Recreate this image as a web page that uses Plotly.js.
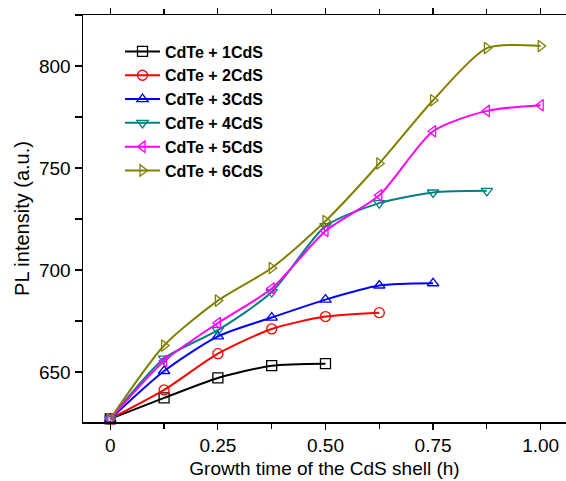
<!DOCTYPE html>
<html>
<head>
<meta charset="utf-8">
<script src="https://cdn.plot.ly/plotly-3.0.1.min.js"></script>
<style>html,body{margin:0;padding:0;background:#fff;}#chart{width:566px;height:481px;}</style>
</head>
<body>
<div id="chart"></div>
<script>
// Growth time (h)
const time = [0, 0.125, 0.25, 0.375, 0.5, 0.625, 0.75, 0.875, 1.0];

// PL intensity (a.u.) per sample
const cds1 = [627, 637.3, 647.1, 653.1, 654.1];
const cds2 = [627, 641.2, 659.0, 671.1, 677.2, 679.1];
const cds3 = [627, 650.5, 667.5, 676.7, 685.5, 692.4, 693.5];
const cds4 = [627, 656.6, 670.5, 689.2, 721.5, 732.8, 738.0, 738.8];
const cds5 = [627, 655.4, 674.0, 690.9, 719.1, 736.6, 768.0, 778.0, 780.8];
const cds6 = [627, 663.0, 685.0, 701.0, 724.0, 752.2, 783.2, 808.8, 809.8];

const seriesNames = ["CdTe + 1CdS", "CdTe + 2CdS", "CdTe + 3CdS", "CdTe + 4CdS", "CdTe + 5CdS", "CdTe + 6CdS"];
const seriesValues = [cds1, cds2, cds3, cds4, cds5, cds6];
const seriesColors = ["#000000", "#ff0000", "#0000ff", "#008080", "#ff00ff", "#808000"];
const seriesSymbols = ["square-open", "circle-open", "triangle-up-open", "triangle-down-open", "triangle-left-open", "triangle-right-open"];

const xTickVals = [0, 0.25, 0.5, 0.75, 1.0];
const xTickText = ["0", "0.25", "0.50", "0.75", "1.00"];
const yTickVals = [650, 700, 750, 800];
const yTickText = ["650", "700", "750", "800"];

const FONT = "Arial, 'Liberation Sans', sans-serif";

const traces = seriesValues.map((vals, i) => ({
  x: time.slice(0, vals.length),
  y: vals,
  name: seriesNames[i],
  type: "scatter",
  mode: "lines+markers",
  line: {color: seriesColors[i], width: 2, shape: "spline", smoothing: 0.7},
  marker: {symbol: seriesSymbols[i], size: 10, color: seriesColors[i], line: {color: seriesColors[i], width: 1.3}},
  cliponaxis: false
}));

const layout = {
  width: 566,
  height: 481,
  margin: {l: 83, r: 0, t: 15, b: 59},
  paper_bgcolor: "#ffffff",
  plot_bgcolor: "#ffffff",
  font: {family: FONT, color: "#000000", size: 19},
  showlegend: true,
  legend: {
    x: 0.0766, y: 0.952, xanchor: "left", yanchor: "top",
    bgcolor: "rgba(0,0,0,0)",
    font: {family: FONT, size: 16, color: "#000000", weight: "bold"},
    itemwidth: 35,
    tracegroupgap: 0
  },
  xaxis: {
    range: [-0.0634, 1.0588],
    tickvals: xTickVals,
    ticktext: xTickText,
    ticks: "outside",
    ticklen: 6,
    tickwidth: 1.2,
    tickcolor: "#000",
    minor: {dtick: 0.125, tick0: 0, ticks: "outside", ticklen: 5, tickwidth: 1.2, tickcolor: "#000"},
    showline: true,
    linecolor: "#000",
    linewidth: 1.5,
    mirror: "allticks",
    showgrid: false,
    zeroline: false,
    tickfont: {family: FONT, size: 19},
    title: {text: "Growth time of the CdS shell (h)", font: {family: FONT, size: 19}, standoff: 6}
  },
  yaxis: {
    range: [625.5, 825],
    tickvals: yTickVals,
    ticktext: yTickText,
    ticks: "outside",
    ticklen: 7,
    tickwidth: 1.2,
    tickcolor: "#000",
    minor: {dtick: 25, tick0: 0, ticks: "outside", ticklen: 7, tickwidth: 1.2, tickcolor: "#000"},
    showline: true,
    linecolor: "#000",
    linewidth: 1.5,
    mirror: false,
    showgrid: false,
    zeroline: false,
    tickfont: {family: FONT, size: 19},
    title: {text: "PL intensity (a.u.)", font: {family: FONT, size: 20}, standoff: 4}
  }
};

Plotly.newPlot("chart", traces, layout, {displayModeBar: false, staticPlot: true});
</script>
</body>
</html>
